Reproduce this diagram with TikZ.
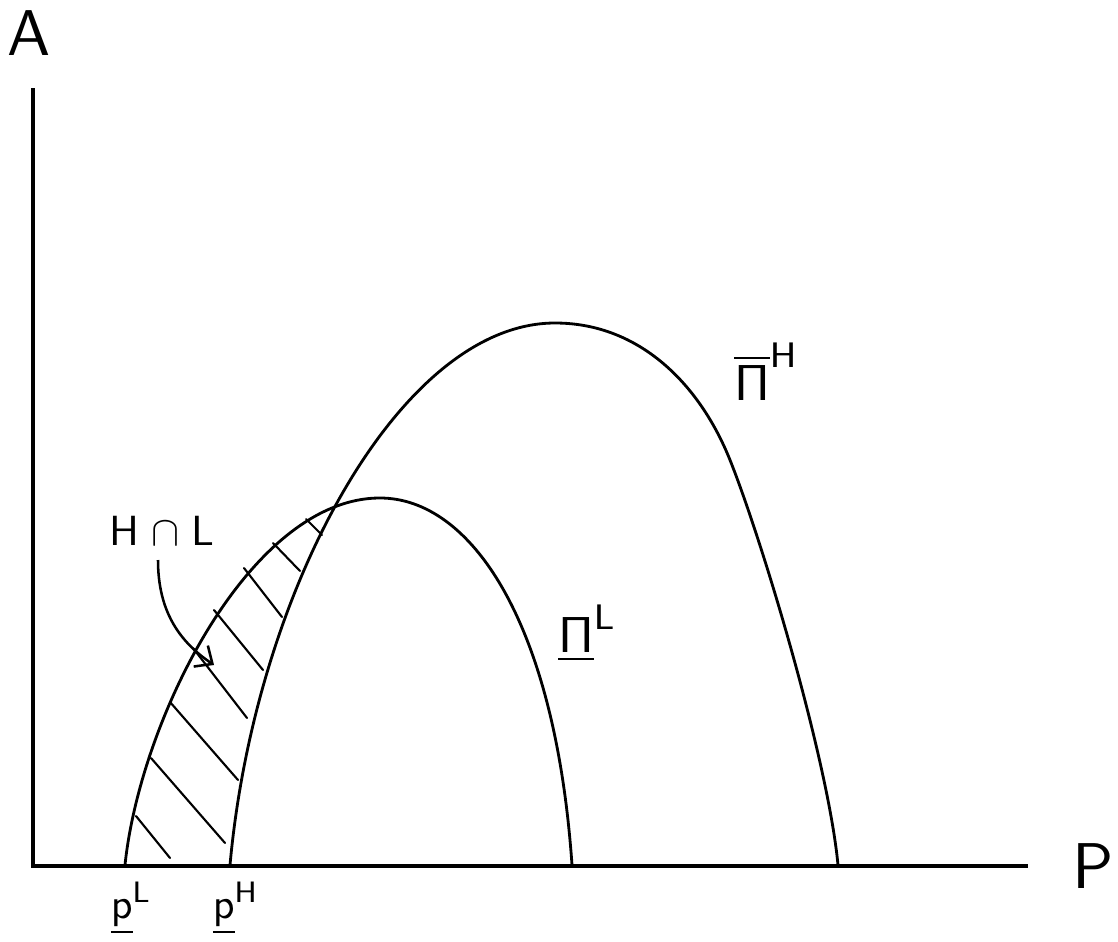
\documentclass[tikz,border=0pt]{standalone}
\usetikzlibrary{arrows.meta}
\begin{document}
\begin{tikzpicture}[x=0.025cm,y=-0.025cm,
  axisline/.style={line width=2.8pt},
  curveline/.style={line width=2pt, line join=round, line cap=round},
  hatchline/.style={line width=1.5pt, line cap=round},
  bigtext/.style={inner sep=0pt, font=\sffamily, scale=4.6},
  midtext/.style={inner sep=0pt, font=\sffamily, scale=3.0},
  pitext/.style={inner sep=0pt, font=\sffamily, scale=3.6}]
\useasboundingbox (0,0) rectangle (1118,941);
% axes
\coordinate (o) at (33,866);
\coordinate (ytop) at (33,88);
\coordinate (xend) at (1028,866);
\draw[axisline] (ytop) -- (o) -- (xend);
% axis labels
\node[bigtext] (A) at (29,33) {A};
\node[bigtext] (P) at (1093,866) {P};
% Pi^L curve
\coordinate (L0) at (125,865);
\coordinate (Lpk) at (380,498);
\coordinate (L1) at (572,865);
\draw[curveline] (L0) .. controls (140,720) and (250,498) .. (Lpk)
  .. controls (470,498) and (555,620) .. (L1);
% Pi^H curve
\coordinate (H0) at (230,865);
\coordinate (Hpk) at (555,323);
\coordinate (Hm) at (730,460);
\coordinate (H1) at (838,865);
\draw[curveline] (H0) .. controls (255,590) and (400,323) .. (Hpk)
  .. controls (640,323) and (700,385) .. (Hm)
  .. controls (762,540) and (828,760) .. (H1);
% hatching
\draw[hatchline] (306,519) -- (322,535);
\draw[hatchline] (273,543) -- (300,571);
\draw[hatchline] (244,568) -- (282,617);
\draw[hatchline] (214,610) -- (263,670);
\draw[hatchline] (193,648) -- (247,718);
\draw[hatchline] (170,702) -- (238,780);
\draw[hatchline] (151,758) -- (225,843);
\draw[hatchline] (136,816) -- (170,858);
% labels
\node[midtext] (HL) at (162,531) {H\;$\cap$\;L};
\coordinate (arrtip) at (214,665);
\draw[line width=1.8pt, -{Straight Barb[length=10pt,width=18pt]}]
  (158,560) .. controls (158,612) and (180,642) .. (arrtip);
\node[midtext, anchor=base west] (pL) at (110,918) {$\underline{\mathsf{p}}^{\mathsf{L}}$};
\node[midtext, anchor=base west] (pH) at (212,918) {$\underline{\mathsf{p}}^{\mathsf{H}}$};
\node[pitext, anchor=base west] (PiH) at (733,400) {$\overline{\mathsf{\Pi}}^{\mathsf{H}}$};
\node[pitext, anchor=base west] (PiL) at (557,652) {$\underline{\mathsf{\Pi}}^{\mathsf{L}}$};
\end{tikzpicture}
\end{document}
